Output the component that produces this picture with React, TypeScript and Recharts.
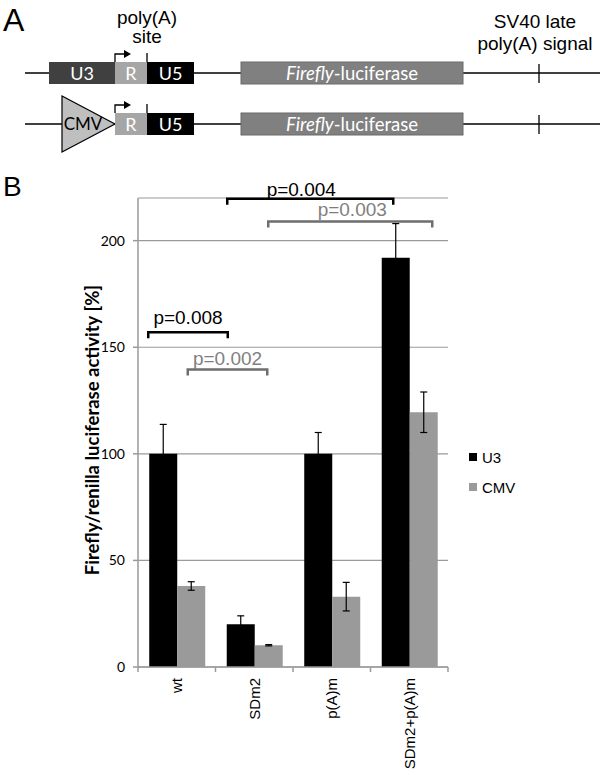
import React from 'react'
import {
  BarChart, Bar, XAxis, YAxis, CartesianGrid, ErrorBar, Legend, ReferenceLine,
} from 'recharts'

const categories = ['wt', 'SDm2', 'p(A)m', 'SDm2+p(A)m']
const seriesNames = ['U3', 'CMV']
const u3Values = [100, 20, 100, 192]
const u3Errors = [13.8, 4, 10, 16]
const cmvValues = [38, 10.2, 33, 119.5]
const cmvErrors = [2, 0.3, 6.7, 9.5]
const yTicks = [0, 50, 100, 150, 200]

// significance brackets: categories joined, height in % units, label
const bracketLabels = ['p=0.008', 'p=0.002', 'p=0.004', 'p=0.003']
const bracketFrom = ['wt', 'wt', 'SDm2', 'SDm2']
const bracketTo = ['SDm2', 'SDm2', 'SDm2+p(A)m', 'SDm2+p(A)m']
const bracketY = [157, 139.6, 219.7, 209]

// drawing offsets for the brackets (px from category centre)
const bracketStyle = [
  { dx1: -28.5, dx2: -26.5, tdx: 0, gap: 8.5, color: '#000', text: '#000' },
  { dx1: 11, dx2: 13, tdx: 0, gap: 4, color: '#6e6e6e', text: '#7f7f7f' },
  { dx1: -27, dx2: -16, tdx: -9, gap: 3, color: '#000', text: '#000' },
  { dx1: 14, dx2: 23, tdx: 2, gap: 5, color: '#6e6e6e', text: '#7f7f7f' },
]

const data = categories.map((name, i) => ({
  name,
  u3: u3Values[i],
  u3Err: u3Errors[i],
  cmv: cmvValues[i],
  cmvErr: cmvErrors[i],
}))

const ARIAL = '"Liberation Sans", Arial, sans-serif'
const CALIBRI = 'Lato, "Open Sans", sans-serif'
const GRID = '#9a9a9a'

function bracketShape(i: number) {
  const s = bracketStyle[i]
  return (props: any) => {
    const xa = props.x1 + s.dx1
    const xb = props.x2 + s.dx2
    const y = props.y1
    const cx = (xa + xb) / 2 + s.tdx
    return (
      <g>
        <path
          d={`M${xa},${y + 6} L${xa},${y} L${xb},${y} L${xb},${y + 6}`}
          fill="none" stroke={s.color} strokeWidth={2.5}
        />
        <text x={cx} y={y - s.gap} textAnchor="middle" fontSize={19} fontFamily={ARIAL} fill={s.text}>
          {bracketLabels[i]}
        </text>
      </g>
    )
  }
}

// category label plus the tick marks at the band edges (Excel style)
function CategoryTick(props: any) {
  const { x, y, payload, index, visibleTicksCount } = props
  const count = visibleTicksCount || categories.length
  const axisW = typeof props.width === 'number' && props.width > 0 ? props.width : 310
  const half = axisW / count / 2
  const axisY = y - 8
  const ty = y + 3
  return (
    <g>
      <line x1={x - half} y1={axisY} x2={x - half} y2={axisY + 5} stroke={GRID} strokeWidth={1.5} />
      {index === count - 1 && (
        <line x1={x + half} y1={axisY} x2={x + half} y2={axisY + 5} stroke={GRID} strokeWidth={1.5} />
      )}
      <text
        x={x} y={ty} dy="0.35em" textAnchor="end" fontSize={15} fontFamily={ARIAL} fill="#000"
        transform={`rotate(-90 ${x} ${ty})`}
      >
        {payload.value}
      </text>
    </g>
  )
}

function YLabel() {
  const x = 93
  const y = 430
  return (
    <text
      x={x} y={y} dy="0.35em" textAnchor="middle" fontSize={18.5} fontWeight="bold"
      fontFamily={CALIBRI} fill="#000" transform={`rotate(-90 ${x} ${y})`}
    >
      Firefly/renilla luciferase activity [%]
    </text>
  )
}

function renderLegend(props: any) {
  const items = [...(props.payload || [])].sort(
    (a: any, b: any) => seriesNames.indexOf(a.value) - seriesNames.indexOf(b.value),
  )
  return (
    <div style={{ fontFamily: ARIAL, fontSize: 15, color: '#000' }}>
      {items.map((it: any) => (
        <div key={it.value} style={{ display: 'flex', alignItems: 'center', height: 30 }}>
          <span style={{ width: 8, height: 8, background: it.color, marginRight: 5, display: 'inline-block' }} />
          <span>{it.value}</span>
        </div>
      ))}
    </div>
  )
}

function Construct({ top, promoter }: { top: number; promoter: 'U3' | 'CMV' }) {
  const mid = top + 11
  const boxFont = 18
  return (
    <g>
      <line x1={25} y1={mid} x2={600} y2={mid} stroke="#000" strokeWidth={1.3} />
      {promoter === 'U3' ? (
        <g>
          <rect x={49} y={top} width={66} height={22} fill="#404040" />
          <text x={82} y={top + 18} textAnchor="middle" fontSize={boxFont} fontFamily={CALIBRI} fill="#fff">U3</text>
        </g>
      ) : (
        <g>
          <polygon points={`62,${mid - 28} 62,${mid + 28} 115,${mid}`} fill="#bfbfbf" stroke="#000" strokeWidth={1.2} />
          <text x={83} y={mid + 6} textAnchor="middle" fontSize={17} fontFamily={CALIBRI} fill="#000">CMV</text>
        </g>
      )}
      <rect x={115} y={top} width={32} height={22} fill="#a6a6a6" />
      <text x={131} y={top + 18} textAnchor="middle" fontSize={boxFont} fontFamily={CALIBRI} fill="#fff">R</text>
      <rect x={147} y={top} width={47} height={22} fill="#000" />
      <text x={170.5} y={top + 18} textAnchor="middle" fontSize={boxFont} fontFamily={CALIBRI} fill="#fff">U5</text>
      <path d={`M115,${top} L115,${top - 8} L125,${top - 8}`} fill="none" stroke="#000" strokeWidth={1.3} />
      <polygon points={`124,${top - 12} 131,${top - 8} 124,${top - 4}`} fill="#000" />
      <line x1={147} y1={top} x2={147} y2={top - 9} stroke="#000" strokeWidth={1.3} />
      <rect x={241} y={top} width={222} height={22} fill="#808080" stroke="#6a6a6a" strokeWidth={1} />
      <text x={352} y={top + 18} textAnchor="middle" fontSize={18.5} fontFamily={CALIBRI} fill="#fff">
        <tspan fontStyle="italic">Firefly</tspan>-luciferase
      </text>
      <line x1={539} y1={top + 2} x2={539} y2={top + 21} stroke="#000" strokeWidth={1.3} />
    </g>
  )
}

function PanelA() {
  return (
    <svg width={600} height={175} style={{ position: 'absolute', left: 0, top: 0, pointerEvents: 'none' }}>
      <text x={3} y={31} fontSize={32} fontFamily={ARIAL}>A</text>
      <text x={147} y={24} textAnchor="middle" fontSize={19} fontFamily={ARIAL}>poly(A)</text>
      <text x={147} y={43} textAnchor="middle" fontSize={19} fontFamily={ARIAL}>site</text>
      <text x={535} y={28} textAnchor="middle" fontSize={19} fontFamily={ARIAL}>SV40 late</text>
      <text x={535} y={50} textAnchor="middle" fontSize={19} fontFamily={ARIAL}>poly(A) signal</text>
      <Construct top={62} promoter="U3" />
      <Construct top={113} promoter="CMV" />
    </svg>
  )
}

export default function App() {
  return (
    <div style={{ position: 'absolute', left: 0, top: 0, width: 600, height: 771, background: '#fff' }}>
      <BarChart
        width={600} height={771} data={data}
        margin={{ top: 198, right: 152, left: 0, bottom: 0 }}
        barCategoryGap="14.5%" barGap={0}
      >
        <CartesianGrid vertical={false} stroke={GRID} strokeWidth={1.2} />
        <XAxis
          dataKey="name" height={104} interval={0} tickLine={false}
          stroke={GRID} strokeWidth={1.5} tick={<CategoryTick />}
        />
        <YAxis
          domain={[0, 220]} ticks={yTicks} width={138} tickSize={5} tickMargin={8}
          stroke={GRID} strokeWidth={1.5}
          tick={{ fill: '#000', fontSize: 14, fontFamily: CALIBRI }}
          label={<YLabel />}
        />
        <Bar dataKey="u3" name={seriesNames[0]} fill="#000" isAnimationActive={false}>
          <ErrorBar dataKey="u3Err" width={3.5} stroke="#000" strokeWidth={1.2} />
        </Bar>
        <Bar dataKey="cmv" name={seriesNames[1]} fill={GRID} isAnimationActive={false}>
          <ErrorBar dataKey="cmvErr" width={3.5} stroke="#000" strokeWidth={1.2} />
        </Bar>
        {bracketLabels.map((label, i) => (
          <ReferenceLine
            key={label}
            segment={[{ x: bracketFrom[i], y: bracketY[i] }, { x: bracketTo[i], y: bracketY[i] }]}
            ifOverflow="visible"
            shape={bracketShape(i)}
          />
        ))}
        <Legend
          layout="vertical" align="center" verticalAlign="middle"
          wrapperStyle={{ left: 469, top: 442, width: 100, height: 60 }}
          content={renderLegend}
        />
      </BarChart>
      <PanelA />
      <svg width={40} height={40} style={{ position: 'absolute', left: 0, top: 170 }}>
        <text x={3} y={26} fontSize={28} fontFamily={ARIAL}>B</text>
      </svg>
    </div>
  )
}
